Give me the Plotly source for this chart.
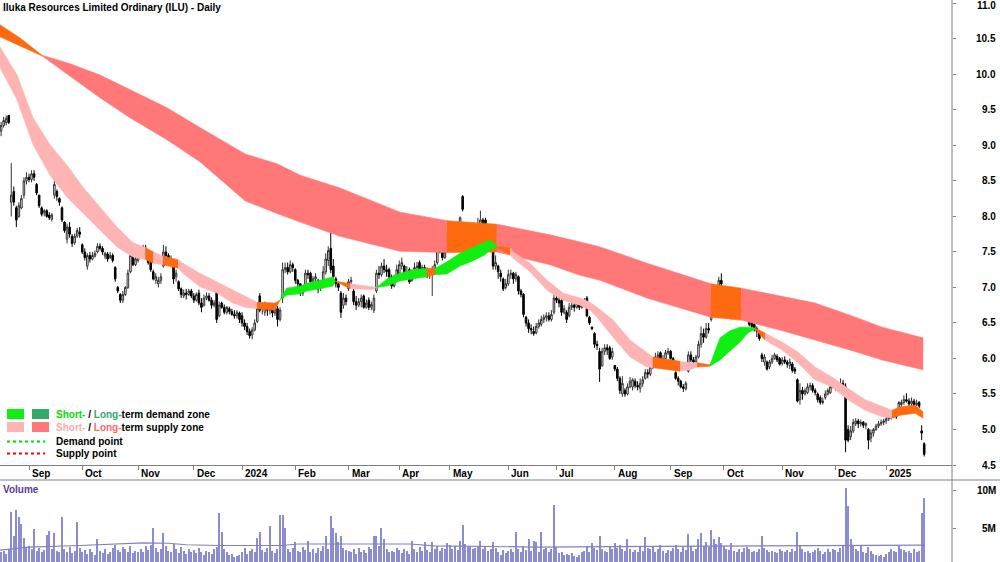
import plotly.graph_objects as go

W, H = 1000, 562


def px(x):
    return x / W


def py(y):
    return 1 - y / H


# ---------------- data ----------------
FIRST_DAY = -11  # trading-day index; 0 = 1 Sep 2023

month_labels = ["", "Sep", "Oct", "Nov", "Dec", "2024", "Feb", "Mar", "Apr", "May", "Jun",
                "Jul", "Aug", "Sep", "Oct", "Nov", "Dec", "2025"]

# daily bars (open, high, low, close), one list per month
m_2023_08 = [(9.20, 9.33, 9.13, 9.28), (9.28, 9.40, 9.25, 9.35), (9.32, 9.42, 9.28, 9.38), (9.42, 9.43, 9.30, 9.32),
             (8.20, 8.75, 8.00, 8.30), (8.35, 8.42, 8.15, 8.20), (8.12, 8.15, 7.85, 7.95), (8.00, 8.20, 7.98, 8.15),
             (8.12, 8.30, 8.10, 8.25), (8.30, 8.55, 8.25, 8.50), (8.50, 8.62, 8.45, 8.55)]
m_2023_09 = [(8.55, 8.60, 8.48, 8.52), (8.52, 8.65, 8.48, 8.60), (8.60, 8.65, 8.50, 8.55), (8.45, 8.47, 8.30, 8.33),
             (8.30, 8.30, 8.12, 8.15), (8.12, 8.14, 8.00, 8.03), (8.05, 8.10, 8.00, 8.08), (8.08, 8.10, 7.98, 8.00),
             (8.02, 8.06, 7.95, 7.98), (7.96, 8.05, 7.93, 8.02), (8.30, 8.50, 8.25, 8.45), (8.35, 8.38, 8.22, 8.28),
             (8.25, 8.27, 8.15, 8.20), (8.12, 8.14, 7.92, 7.95), (7.92, 7.93, 7.77, 7.80), (7.68, 7.90, 7.62, 7.85),
             (7.85, 7.92, 7.70, 7.75), (7.72, 7.75, 7.57, 7.62), (7.63, 7.76, 7.60, 7.72), (7.72, 7.84, 7.70, 7.80),
             (7.78, 7.85, 7.70, 7.75)]
m_2023_10 = [(7.60, 7.62, 7.47, 7.50), (7.50, 7.55, 7.38, 7.42), (7.30, 7.48, 7.25, 7.45), (7.45, 7.50, 7.35, 7.40),
             (7.40, 7.50, 7.38, 7.45), (7.44, 7.52, 7.42, 7.48), (7.50, 7.62, 7.48, 7.58), (7.58, 7.62, 7.52, 7.55),
             (7.55, 7.58, 7.46, 7.50), (7.44, 7.50, 7.40, 7.48), (7.47, 7.50, 7.36, 7.40), (7.42, 7.50, 7.40, 7.45),
             (7.45, 7.48, 7.35, 7.38), (7.28, 7.30, 7.08, 7.12), (7.00, 7.02, 6.92, 6.95), (6.90, 6.92, 6.78, 6.82),
             (6.82, 6.95, 6.78, 6.90), (6.90, 7.02, 6.88, 7.00), (7.00, 7.25, 6.98, 7.20), (7.22, 7.52, 7.20, 7.45),
             (7.45, 7.48, 7.30, 7.32), (7.32, 7.45, 7.30, 7.40)]
m_2023_11 = [(7.38, 7.50, 7.35, 7.45), (7.45, 7.52, 7.42, 7.48), (7.48, 7.60, 7.45, 7.55), (7.55, 7.60, 7.40, 7.42),
             (7.42, 7.47, 7.32, 7.35), (7.35, 7.38, 7.22, 7.25), (7.22, 7.25, 7.10, 7.12), (7.10, 7.20, 7.05, 7.15),
             (7.05, 7.15, 7.00, 7.10), (7.10, 7.20, 7.05, 7.15), (7.30, 7.60, 7.28, 7.50), (7.50, 7.58, 7.42, 7.45),
             (7.45, 7.48, 7.35, 7.38), (7.38, 7.45, 7.35, 7.40), (7.38, 7.40, 7.05, 7.12), (7.15, 7.25, 7.08, 7.20),
             (7.08, 7.10, 6.95, 6.98), (6.98, 7.00, 6.85, 6.90), (6.88, 6.97, 6.85, 6.92), (6.92, 6.98, 6.83, 6.90),
             (6.90, 6.98, 6.88, 6.95), (6.95, 6.98, 6.85, 6.88)]
m_2023_12 = [(6.88, 6.92, 6.78, 6.82), (6.82, 6.93, 6.80, 6.90), (6.92, 6.97, 6.75, 6.78), (6.78, 6.85, 6.65, 6.72),
             (6.75, 6.90, 6.73, 6.85), (6.85, 6.93, 6.82, 6.88), (6.88, 6.92, 6.80, 6.82), (6.82, 6.86, 6.70, 6.75),
             (6.75, 6.82, 6.72, 6.78), (6.95, 7.06, 6.50, 6.55), (6.60, 6.80, 6.58, 6.75), (6.78, 6.80, 6.70, 6.72),
             (6.72, 6.76, 6.62, 6.65), (6.65, 6.74, 6.62, 6.72), (6.70, 6.73, 6.62, 6.66), (6.66, 6.70, 6.60, 6.62),
             (6.62, 6.68, 6.56, 6.60), (6.60, 6.68, 6.56, 6.65), (6.64, 6.66, 6.50, 6.55)]
m_2024_01 = [(6.60, 6.65, 6.45, 6.50), (6.50, 6.55, 6.40, 6.45), (6.45, 6.50, 6.33, 6.38), (6.38, 6.42, 6.28, 6.32),
             (6.33, 6.44, 6.27, 6.40), (6.40, 6.55, 6.38, 6.50), (6.52, 6.75, 6.50, 6.70), (6.88, 6.92, 6.65, 6.68),
             (6.70, 6.78, 6.62, 6.72), (6.65, 6.80, 6.60, 6.75), (6.75, 6.78, 6.60, 6.68), (6.68, 6.75, 6.62, 6.70),
             (6.70, 6.72, 6.58, 6.64), (6.64, 6.75, 6.60, 6.70), (6.70, 6.74, 6.45, 6.55), (6.55, 6.72, 6.52, 6.68),
             (6.85, 7.35, 6.78, 7.25), (7.25, 7.35, 7.20, 7.28), (7.28, 7.35, 7.18, 7.22), (7.22, 7.38, 7.20, 7.32),
             (7.32, 7.35, 7.22, 7.28)]
m_2024_02 = [(7.25, 7.27, 7.05, 7.10), (7.10, 7.12, 6.98, 7.05), (7.05, 7.06, 6.88, 6.92), (6.92, 6.98, 6.88, 6.95),
             (6.98, 7.25, 6.96, 7.20), (7.20, 7.25, 7.12, 7.18), (7.20, 7.22, 7.05, 7.08), (7.08, 7.16, 7.00, 7.12),
             (7.12, 7.20, 7.08, 7.15), (7.10, 7.12, 6.92, 6.98), (7.00, 7.05, 6.95, 7.02), (7.05, 7.30, 7.02, 7.22),
             (7.22, 7.48, 7.18, 7.40), (7.38, 7.58, 7.30, 7.52), (7.55, 7.84, 7.20, 7.25), (7.30, 7.40, 7.10, 7.15),
             (7.12, 7.15, 7.00, 7.05), (7.05, 7.08, 6.95, 7.00), (6.92, 6.95, 6.57, 6.65), (6.75, 6.92, 6.70, 6.85),
             (6.85, 6.90, 6.75, 6.80)]
m_2024_03 = [(6.98, 7.12, 6.95, 7.08), (7.08, 7.15, 7.02, 7.10), (6.95, 6.98, 6.75, 6.80), (6.80, 6.88, 6.68, 6.75),
             (6.75, 6.85, 6.72, 6.80), (6.80, 6.90, 6.72, 6.85), (6.88, 6.90, 6.70, 6.72), (6.72, 6.83, 6.70, 6.78),
             (6.82, 6.86, 6.68, 6.72), (6.72, 6.80, 6.68, 6.76), (6.68, 6.90, 6.64, 6.85), (6.95, 7.25, 6.92, 7.20),
             (7.20, 7.30, 7.12, 7.18), (7.18, 7.35, 7.15, 7.30), (7.30, 7.40, 7.20, 7.25), (7.25, 7.32, 7.15, 7.22),
             (7.25, 7.28, 7.12, 7.15), (7.15, 7.18, 6.98, 7.02), (7.02, 7.18, 7.00, 7.12), (7.12, 7.32, 7.10, 7.25)]
m_2024_04 = [(7.20, 7.38, 7.15, 7.32), (7.30, 7.42, 7.25, 7.35), (7.30, 7.32, 7.12, 7.18), (7.20, 7.30, 7.12, 7.22),
             (7.25, 7.28, 7.05, 7.08), (7.10, 7.25, 7.08, 7.18), (7.18, 7.35, 7.15, 7.28), (7.28, 7.36, 7.22, 7.30),
             (7.35, 7.38, 7.20, 7.25), (7.25, 7.32, 7.20, 7.28), (7.28, 7.32, 7.18, 7.22), (7.22, 7.28, 7.13, 7.18),
             (7.18, 7.25, 7.12, 7.22), (7.20, 7.30, 6.88, 7.25), (7.22, 7.38, 7.18, 7.32), (7.35, 7.65, 7.32, 7.58),
             (7.58, 7.63, 7.48, 7.55), (7.55, 7.58, 7.38, 7.42), (7.42, 7.58, 7.40, 7.50), (7.55, 7.82, 7.52, 7.78)]
m_2024_05 = [(7.70, 7.85, 7.65, 7.78), (7.78, 7.85, 7.65, 7.72), (7.72, 7.88, 7.68, 7.80), (7.80, 7.90, 7.70, 7.75),
             (7.65, 8.00, 7.62, 7.98), (8.28, 8.30, 8.07, 8.10), (7.85, 7.88, 7.58, 7.62), (7.65, 7.80, 7.60, 7.72),
             (7.78, 7.80, 7.60, 7.65), (7.65, 7.75, 7.58, 7.70), (7.70, 7.86, 7.68, 7.82), (7.80, 7.98, 7.78, 7.90),
             (7.90, 8.08, 7.85, 7.95), (7.95, 7.98, 7.80, 7.85), (7.95, 7.98, 7.78, 7.82), (7.72, 7.75, 7.62, 7.70),
             (7.70, 7.75, 7.62, 7.68), (7.52, 7.55, 7.25, 7.30), (7.30, 7.45, 7.25, 7.35), (7.30, 7.32, 7.12, 7.22),
             (7.20, 7.25, 7.08, 7.15), (7.12, 7.14, 6.95, 6.98), (7.00, 7.12, 6.97, 7.05)]
m_2024_06 = [(7.05, 7.25, 7.02, 7.18), (7.18, 7.25, 7.12, 7.20), (7.20, 7.22, 7.05, 7.12), (7.12, 7.22, 7.08, 7.18),
             (7.15, 7.17, 6.90, 6.95), (6.95, 6.98, 6.86, 6.90), (6.90, 6.92, 6.58, 6.62), (6.58, 6.60, 6.45, 6.50),
             (6.50, 6.55, 6.36, 6.42), (6.42, 6.48, 6.34, 6.40), (6.38, 6.45, 6.32, 6.35), (6.36, 6.50, 6.34, 6.45),
             (6.45, 6.55, 6.42, 6.50), (6.48, 6.60, 6.45, 6.55), (6.55, 6.62, 6.50, 6.58), (6.58, 6.65, 6.52, 6.60),
             (6.60, 6.65, 6.52, 6.55), (6.55, 6.68, 6.52, 6.62), (6.65, 6.90, 6.62, 6.85)]
m_2024_07 = [(6.85, 6.90, 6.78, 6.82), (6.82, 6.88, 6.72, 6.78), (6.82, 6.85, 6.60, 6.65), (6.65, 6.75, 6.62, 6.70),
             (6.65, 6.68, 6.50, 6.55), (6.60, 6.78, 6.58, 6.72), (6.72, 6.80, 6.68, 6.75), (6.75, 6.80, 6.66, 6.72),
             (6.72, 6.82, 6.70, 6.78), (6.75, 6.78, 6.68, 6.72), (6.72, 6.80, 6.70, 6.75), (6.75, 6.85, 6.72, 6.80),
             (6.85, 6.88, 6.58, 6.60), (6.58, 6.60, 6.47, 6.50), (6.44, 6.45, 6.40, 6.42), (6.35, 6.37, 6.15, 6.20),
             (6.20, 6.25, 6.12, 6.18), (6.10, 6.15, 5.67, 5.85), (5.90, 6.15, 5.88, 6.10), (6.10, 6.20, 6.05, 6.15),
             (6.15, 6.20, 6.05, 6.12), (6.15, 6.18, 5.98, 6.00), (6.02, 6.15, 5.98, 6.10)]
m_2024_08 = [(5.90, 5.90, 5.82, 5.85), (5.85, 5.88, 5.68, 5.72), (5.72, 5.75, 5.50, 5.55), (5.50, 5.75, 5.46, 5.65),
             (5.55, 5.58, 5.46, 5.50), (5.50, 5.65, 5.48, 5.60), (5.60, 5.74, 5.58, 5.68), (5.60, 5.72, 5.55, 5.70),
             (5.68, 5.72, 5.58, 5.62), (5.62, 5.68, 5.55, 5.60), (5.58, 5.72, 5.52, 5.65), (5.65, 5.75, 5.60, 5.70),
             (5.72, 5.85, 5.70, 5.80), (5.80, 5.85, 5.72, 5.78), (5.78, 5.92, 5.75, 5.88), (5.88, 6.02, 5.85, 5.98),
             (5.98, 6.08, 5.95, 6.02), (6.02, 6.10, 6.00, 6.05), (6.08, 6.10, 5.88, 5.92), (5.95, 6.05, 5.92, 6.00),
             (6.00, 6.12, 5.98, 6.08), (6.08, 6.15, 6.05, 6.10)]
m_2024_09 = [(6.10, 6.12, 5.98, 6.00), (6.00, 6.02, 5.88, 5.92), (5.80, 5.82, 5.70, 5.72), (5.72, 5.75, 5.62, 5.68),
             (5.68, 5.70, 5.58, 5.60), (5.60, 5.64, 5.53, 5.58), (5.57, 5.68, 5.55, 5.65), (5.82, 6.10, 5.80, 6.05),
             (6.05, 6.10, 5.95, 5.98), (5.98, 6.02, 5.92, 5.95), (5.95, 6.05, 5.92, 6.02), (6.02, 6.25, 6.00, 6.20),
             (6.20, 6.45, 6.15, 6.35), (6.35, 6.42, 6.22, 6.30), (6.30, 6.50, 6.28, 6.42), (6.42, 6.50, 6.35, 6.40),
             (6.55, 6.87, 6.52, 6.85), (6.82, 6.96, 6.75, 6.90), (6.90, 7.02, 6.88, 6.98), (6.98, 7.15, 6.95, 7.10),
             (7.10, 7.20, 6.98, 7.05)]
m_2024_10 = [(7.00, 7.02, 6.85, 6.88), (6.92, 6.95, 6.82, 6.85), (6.85, 6.88, 6.78, 6.80), (6.60, 6.68, 6.55, 6.62),
             (6.75, 6.78, 6.68, 6.70), (6.70, 6.77, 6.62, 6.72), (6.70, 6.72, 6.60, 6.62), (6.62, 6.72, 6.58, 6.68),
             (6.68, 6.72, 6.55, 6.60), (6.60, 6.78, 6.55, 6.72), (6.65, 6.66, 6.45, 6.48), (6.50, 6.52, 6.40, 6.45),
             (6.48, 6.50, 6.38, 6.42), (6.42, 6.45, 6.30, 6.38), (6.38, 6.40, 6.25, 6.28), (6.05, 6.08, 5.95, 6.00),
             (5.95, 6.06, 5.90, 6.02), (5.95, 5.97, 5.83, 5.85), (5.88, 5.98, 5.85, 5.95), (5.95, 6.05, 5.92, 6.00),
             (6.00, 6.08, 5.98, 6.05), (6.03, 6.06, 5.95, 5.98), (6.00, 6.02, 5.90, 5.92)]
m_2024_11 = [(5.93, 6.02, 5.90, 5.98), (5.98, 6.03, 5.92, 5.95), (5.95, 5.98, 5.87, 5.92), (5.90, 6.00, 5.85, 5.95),
             (5.92, 5.95, 5.80, 5.83), (5.85, 5.88, 5.78, 5.82), (5.70, 5.72, 5.38, 5.40), (5.42, 5.65, 5.35, 5.55),
             (5.55, 5.60, 5.42, 5.50), (5.50, 5.58, 5.48, 5.55), (5.52, 5.65, 5.50, 5.60), (5.60, 5.66, 5.55, 5.62),
             (5.62, 5.65, 5.52, 5.55), (5.55, 5.58, 5.48, 5.52), (5.50, 5.52, 5.38, 5.42), (5.45, 5.48, 5.35, 5.38),
             (5.38, 5.45, 5.35, 5.40), (5.45, 5.55, 5.42, 5.50), (5.50, 5.58, 5.48, 5.55), (5.52, 5.62, 5.50, 5.60),
             (5.60, 5.70, 5.58, 5.65)]
m_2024_12 = [(5.68, 5.70, 5.55, 5.60), (5.60, 5.68, 5.56, 5.62), (5.62, 5.72, 5.58, 5.65), (5.65, 5.70, 5.55, 5.60),
             (5.60, 5.65, 4.68, 4.85), (5.00, 5.06, 4.82, 4.85), (4.90, 5.05, 4.85, 4.98), (4.98, 5.15, 4.95, 5.10),
             (5.08, 5.16, 5.05, 5.12), (5.12, 5.15, 5.02, 5.08), (5.08, 5.14, 5.04, 5.10), (5.10, 5.12, 5.02, 5.06),
             (5.06, 5.10, 5.00, 5.08), (5.00, 5.02, 4.72, 4.85), (4.88, 5.00, 4.82, 4.95), (4.95, 5.02, 4.90, 5.00),
             (5.00, 5.08, 4.98, 5.05), (5.05, 5.12, 5.02, 5.08), (5.08, 5.14, 5.05, 5.10), (5.10, 5.15, 5.06, 5.12)]
m_2025_01 = [(5.12, 5.18, 5.08, 5.15), (5.15, 5.22, 5.12, 5.18), (5.16, 5.25, 5.14, 5.22), (5.20, 5.26, 5.16, 5.24),
             (5.26, 5.28, 5.15, 5.18), (5.22, 5.40, 5.20, 5.38), (5.35, 5.42, 5.32, 5.38), (5.38, 5.48, 5.35, 5.42),
             (5.42, 5.51, 5.38, 5.40), (5.40, 5.44, 5.32, 5.36), (5.36, 5.45, 5.33, 5.40), (5.40, 5.43, 5.32, 5.35),
             (5.35, 5.42, 5.33, 5.37), (5.38, 5.40, 5.30, 5.33), (4.98, 5.06, 4.85, 4.95), (4.80, 4.82, 4.62, 4.65)]

months = [m_2023_08, m_2023_09, m_2023_10, m_2023_11, m_2023_12, m_2024_01, m_2024_02, m_2024_03,
          m_2024_04, m_2024_05, m_2024_06, m_2024_07, m_2024_08, m_2024_09, m_2024_10, m_2024_11,
          m_2024_12, m_2025_01]

# daily volume in millions, one list per month
v_2023_08 = [1.8, 2.0, 1.6, 2.2, 7.1, 3.9, 7.4, 6.5, 5.5, 3.7, 2.5]
v_2023_09 = [2.6, 2.2, 4.9, 2.0, 2.4, 1.9, 2.1, 4.1, 4.6, 2.3, 4.3, 2.0, 1.8, 6.4, 2.2, 1.9, 2.5, 1.7, 2.0, 5.8, 2.4]
v_2023_10 = [1.8, 2.1, 1.6, 2.3, 1.9, 1.5, 3.6, 2.0, 1.7, 2.2, 1.6, 1.9, 2.4, 2.8, 2.1, 1.8, 2.5, 2.2, 1.9, 2.6, 1.7, 2.0]
v_2023_11 = [1.8, 2.3, 1.9, 2.6, 2.1, 2.8, 5.0, 2.4, 1.9, 2.2, 4.3, 2.6, 2.0, 1.8, 2.9, 2.3, 1.7, 2.5, 2.0, 1.6, 2.2, 1.9]
v_2023_12 = [2.1, 1.7, 2.4, 1.8, 1.5, 2.0, 1.9, 1.6, 2.3, 2.5, 7.0, 4.5, 2.2, 1.8, 1.4, 1.6, 1.2, 1.3, 1.5]
v_2024_01 = [1.8, 2.4, 1.6, 2.0, 2.2, 1.9, 3.7, 4.5, 2.1, 1.8, 2.4, 5.3, 2.0, 1.7, 2.3, 6.7, 6.7, 5.0, 2.2, 1.9, 2.4]
v_2024_02 = [3.2, 2.0, 1.8, 2.5, 2.1, 3.3, 1.9, 2.2, 1.7, 2.4, 2.0, 2.6, 3.9, 2.3, 6.6, 5.0, 4.3, 3.2, 4.0, 2.4, 2.1]
v_2024_03 = [2.0, 1.8, 2.3, 1.6, 2.4, 1.9, 2.1, 1.7, 2.5, 2.2, 4.0, 4.0, 2.6, 5.0, 3.6, 2.2, 1.9, 2.0, 1.8, 2.4]
v_2024_04 = [2.1, 1.7, 2.3, 2.0, 1.6, 3.3, 2.2, 1.9, 2.5, 2.0, 3.2, 2.1, 1.8, 3.2, 2.3, 2.6, 2.0, 2.4, 2.2, 3.0]
v_2024_05 = [2.8, 2.3, 2.6, 2.1, 3.3, 5.4, 2.9, 2.5, 2.7, 2.2, 2.4, 2.6, 3.3, 2.3, 2.5, 2.0, 2.2, 3.2, 2.4, 1.9, 1.5,
             2.1, 1.7]
v_2024_06 = [2.0, 2.3, 1.8, 4.5, 2.2, 1.9, 2.6, 2.1, 3.5, 2.0, 3.3, 3.2, 1.9, 4.5, 2.2, 2.4, 1.8, 2.3, 8.0]
v_2024_07 = [2.5, 1.7, 1.9, 1.5, 1.6, 1.4, 1.7, 1.3, 1.2, 1.5, 1.8, 2.0, 2.6, 1.9, 3.0, 2.4, 2.1, 4.0, 2.3, 2.0, 1.8,
             2.5, 2.2]
v_2024_08 = [3.0, 2.4, 2.8, 2.2, 2.0, 3.5, 2.3, 1.9, 2.1, 1.8, 2.6, 2.0, 3.8, 2.4, 2.2, 2.6, 1.9, 2.3, 2.8, 2.0, 1.7, 2.1]
v_2024_09 = [2.0, 2.4, 2.8, 2.2, 1.9, 2.5, 2.1, 4.2, 2.6, 2.0, 2.3, 3.6, 4.4, 2.7, 3.2, 2.5, 4.8, 3.5, 2.9, 3.8, 3.0]
v_2024_10 = [2.6, 2.3, 2.1, 3.0, 2.0, 1.8, 2.2, 1.9, 2.4, 2.5, 2.2, 1.9, 2.0, 1.8, 2.3, 3.9, 2.4, 2.1, 1.9, 2.0, 1.8,
             1.7, 2.2]
v_2024_11 = [2.0, 1.8, 2.1, 1.9, 2.3, 2.0, 4.5, 2.8, 2.2, 1.9, 2.0, 1.7, 1.8, 2.1, 2.4, 2.0, 1.6, 1.8, 2.2, 1.9, 2.3]
v_2024_12 = [2.1, 1.8, 2.4, 2.6, 10.3, 7.9, 3.5, 2.6, 2.2, 2.0, 2.8, 1.9, 1.7, 2.5, 2.0, 1.6, 1.5, 1.3, 1.4, 1.2]
v_2025_01 = [1.6, 1.8, 2.2, 2.0, 1.9, 2.6, 2.3, 2.1, 1.9, 2.0, 1.7, 2.2, 1.8, 2.0, 7.0, 8.9]

vol_months = [v_2023_08, v_2023_09, v_2023_10, v_2023_11, v_2023_12, v_2024_01, v_2024_02, v_2024_03,
              v_2024_04, v_2024_05, v_2024_06, v_2024_07, v_2024_08, v_2024_09, v_2024_10, v_2024_11,
              v_2024_12, v_2025_01]

# volume average line (millions) at trading-day knots
vma_day = [-11.5, 0, 20, 45, 55, 62, 75, 100, 106, 150, 160, 185, 200, 230, 260, 300, 340, 353]
vma_val = [2.1, 2.5, 2.7, 3.05, 3.0, 2.8, 2.7, 2.7, 2.9, 2.9, 2.65, 2.6, 2.5, 2.55, 2.6, 2.65, 2.7, 2.75]

# long-term zone band (S = supply, N = neutral/orange, D = demand); zone applies to the span after the knot
lt_day = [-11.5, -3.5, 5.1, 16.2, 28.0, 39.8, 54.4, 67.4, 85.2, 97.8, 106.9, 122.6, 146.3, 164.8, 184.5,
          205.4, 217.3, 225.2, 243.7, 268.9, 280.8, 296.1, 309.9, 323.7, 336.4, 352.5]
lt_upper = [10.70, 10.51, 10.27, 10.15, 9.99, 9.78, 9.53, 9.25, 8.88, 8.74, 8.58, 8.40, 8.06, 7.94, 7.89,
            7.74, 7.64, 7.57, 7.34, 7.05, 6.99, 6.88, 6.78, 6.61, 6.44, 6.29]
lt_lower = [10.53, 10.40, 10.26, 9.98, 9.67, 9.39, 9.08, 8.77, 8.22, 8.04, 7.92, 7.72, 7.51, 7.49, 7.50,
            7.32, 7.17, 7.10, 6.85, 6.58, 6.54, 6.40, 6.26, 6.12, 5.98, 5.84]
lt_zone = ["N", "N", "S", "S", "S", "S", "S", "S", "S", "S", "S", "S", "S", "N", "S",
           "S", "S", "S", "S", "N", "S", "S", "S", "S", "S", "S"]

# short-term zone band
st_day = [-11.5, -4.7, 1.6, 8.3, 15.0, 21.3, 28.0, 34.7, 41.0, 46.0, 49.0, 52.8, 58.8, 60.7, 67.4, 74.1,
          80.4, 85.2, 89.9, 97.0, 99.0, 101.5, 106.9, 109.6, 114.7, 119.9, 120.7, 126.6, 135.6, 137.0,
          141.2, 146.3, 151.2, 156.9, 160.1, 164.8, 169.9, 174.8, 179.8, 181.8, 184.5, 189.7, 190.9,
          197.6, 204.3, 210.6, 217.3, 221.2, 224.0, 230.3, 237.0, 243.7, 246.0, 256.7, 260.6, 263.4,
          268.5, 272.5, 276.4, 280.4, 283.5, 286.3, 290.2, 296.9, 303.2, 309.9, 316.6, 322.9, 329.7,
          336.4, 340.3, 343.5, 349.4, 352.5]
st_upper = [10.39, 9.99, 9.39, 9.01, 8.72, 8.41, 8.13, 7.85, 7.63, 7.56, 7.50, 7.44, 7.39, 7.34, 7.20, 7.08,
            6.96, 6.87, 6.79, 6.78, 6.82, 6.99, 7.02, 7.06, 7.10, 7.15, 7.09, 7.05, 7.01, 7.00,
            7.12, 7.20, 7.25, 7.27, 7.27, 7.36, 7.48, 7.56, 7.63, 7.67, 7.58, 7.56, 7.50,
            7.34, 7.10, 6.92, 6.85, 6.79, 6.72, 6.54, 6.26, 6.08, 6.02, 5.96, 5.94, 5.94,
            5.91, 6.29, 6.39, 6.44, 6.44, 6.43, 6.36, 6.23, 6.09, 5.88, 5.74, 5.58, 5.42,
            5.32, 5.27, 5.32, 5.34, 5.25]
st_lower = [10.10, 9.64, 9.01, 8.58, 8.27, 8.05, 7.81, 7.57, 7.43, 7.39, 7.34, 7.32, 7.27, 7.20, 7.01, 6.92,
            6.78, 6.72, 6.70, 6.68, 6.82, 6.89, 6.91, 6.95, 6.98, 7.02, 7.09, 6.98, 6.97, 7.00,
            7.02, 7.09, 7.12, 7.15, 7.18, 7.19, 7.30, 7.37, 7.46, 7.53, 7.56, 7.46, 7.41,
            7.22, 6.96, 6.82, 6.75, 6.68, 6.58, 6.30, 6.02, 5.88, 5.87, 5.82, 5.84, 5.88,
            5.89, 5.98, 6.10, 6.23, 6.36, 6.41, 6.26, 6.12, 5.94, 5.70, 5.60, 5.42, 5.27,
            5.18, 5.16, 5.20, 5.23, 5.16]
st_zone = ["S", "S", "S", "S", "S", "S", "S", "S", "S", "N", "S", "N", "S", "S", "S", "S",
           "S", "S", "N", "N", "D", "D", "D", "D", "D", "D", "N", "S", "S", "D",
           "D", "D", "D", "N", "D", "D", "D", "D", "D", "D", "N", "S", "S",
           "S", "S", "S", "S", "S", "S", "S", "S", "S", "N", "S", "S", "N",
           "D", "D", "D", "D", "D", "N", "S", "S", "S", "S", "S", "S", "S",
           "S", "N", "N", "N", "N"]

price_ticks = [4.5, 5.0, 5.5, 6.0, 6.5, 7.0, 7.5, 8.0, 8.5, 9.0, 9.5, 10.0, 10.5, 11.0]
price_tick_text = ["4.5", "5.0", "5.5", "6.0", "6.5", "7.0", "7.5", "8.0", "8.5", "9.0", "9.5", "10.0",
                   "10.5", "11.0"]
vol_ticks = [5e6, 10e6]
vol_tick_text = ["5M", "10M"]

# ---------------- derived ----------------
opens, highs, lows, closes = [], [], [], []
month_start = []
d = FIRST_DAY
for m in months:
    month_start.append(d)
    for o, h, l, c in m:
        opens.append(o)
        highs.append(h)
        lows.append(l)
        closes.append(c)
    d += len(m)
days = list(range(FIRST_DAY, FIRST_DAY + len(closes)))

volumes = [v * 1e6 for m in vol_months for v in m]
vol_days = list(range(FIRST_DAY, FIRST_DAY + len(volumes)))

LT_COL = {"S": "#FF7777", "N": "#FF6A10", "D": "#33AA66"}
ST_COL = {"S": "#FFB4B4", "N": "#FF6A10", "D": "#11EE11"}

X_RANGE = [-11.435, 363.96]
AX_END = 0.952

fig = go.Figure()


def add_band(day, up, lo, zone, cols):
    n = len(day)
    start = 0
    for k in range(1, n):
        if k == n - 1 or zone[k] != zone[start]:
            seg = list(range(start, k + 1))
            xs = [day[j] for j in seg] + [day[j] for j in reversed(seg)]
            ys = [up[j] for j in seg] + [lo[j] for j in reversed(seg)]
            col = cols[zone[start]]
            fig.add_trace(go.Scatter(x=xs, y=ys, mode="lines", fill="toself", fillcolor=col,
                                     line=dict(width=0.6, color=col), hoverinfo="skip",
                                     showlegend=False, xaxis="x", yaxis="y"))
            start = k


add_band(lt_day, lt_upper, lt_lower, lt_zone, LT_COL)
add_band(st_day, st_upper, st_lower, st_zone, ST_COL)

fig.add_trace(go.Candlestick(
    x=days, open=opens, high=highs, low=lows, close=closes,
    increasing=dict(line=dict(color="#333333", width=1), fillcolor="white"),
    decreasing=dict(line=dict(color="black", width=1), fillcolor="black"),
    whiskerwidth=0, showlegend=False, xaxis="x", yaxis="y"))

fig.add_trace(go.Bar(x=vol_days, y=volumes, width=0.42, marker=dict(color="#8C8CD2", line=dict(width=0)),
                     showlegend=False, xaxis="x2", yaxis="y2"))
fig.add_trace(go.Scatter(x=vma_day, y=[v * 1e6 for v in vma_val], mode="lines",
                         line=dict(color="#8080C8", width=1.2), showlegend=False,
                         xaxis="x2", yaxis="y2"))

price_top = 4.5 + 465 / 71.03
fig.update_layout(
    width=W, height=H, margin=dict(l=0, r=0, t=0, b=0),
    paper_bgcolor="white", plot_bgcolor="white",
    showlegend=False, bargap=0, boxgap=0.12,
    font=dict(family="Liberation Sans, Arial, sans-serif", size=10, color="black"),
    xaxis=dict(domain=[0, AX_END], range=X_RANGE, showgrid=False, zeroline=False,
               rangeslider=dict(visible=False), showline=False,
               tickvals=month_start[1:], ticks="outside", ticklen=4, tickcolor="#808080",
               showticklabels=False, anchor="y"),
    yaxis=dict(domain=[py(465), 1], range=[4.5, price_top], showgrid=False, zeroline=False,
               side="right", anchor="x", tickvals=price_ticks, ticks="outside", ticklen=3,
               tickcolor="#808080", showticklabels=False, showline=False),
    xaxis2=dict(domain=[0, AX_END], range=X_RANGE, matches="x", showgrid=False, zeroline=False,
                showticklabels=False, ticks="", anchor="y2"),
    yaxis2=dict(domain=[0, py(480)], range=[0.53e6, 11.32e6], showgrid=False, zeroline=False,
                side="right", anchor="x2", tickvals=vol_ticks, ticks="outside", ticklen=3,
                tickcolor="#808080", showticklabels=False),
)

shapes = [
    dict(type="line", xref="paper", yref="paper", x0=AX_END, x1=AX_END, y0=0, y1=1,
         line=dict(color="#808080", width=1)),
    dict(type="line", xref="paper", yref="paper", x0=0, x1=AX_END, y0=py(465.5), y1=py(465.5),
         line=dict(color="#808080", width=1)),
    dict(type="line", xref="paper", yref="paper", x0=0, x1=1, y0=py(480), y1=py(480),
         line=dict(color="#808080", width=1)),
    # legend swatches
    dict(type="rect", xref="paper", yref="paper", x0=px(7), x1=px(24), y0=py(419), y1=py(409),
         fillcolor=ST_COL["D"], line=dict(width=0)),
    dict(type="rect", xref="paper", yref="paper", x0=px(32), x1=px(49), y0=py(419), y1=py(409),
         fillcolor=LT_COL["D"], line=dict(width=0)),
    dict(type="rect", xref="paper", yref="paper", x0=px(7), x1=px(24), y0=py(432), y1=py(422),
         fillcolor=ST_COL["S"], line=dict(width=0)),
    dict(type="rect", xref="paper", yref="paper", x0=px(32), x1=px(49), y0=py(432), y1=py(422),
         fillcolor=LT_COL["S"], line=dict(width=0)),
    dict(type="line", xref="paper", yref="paper", x0=px(7), x1=px(45), y0=py(441.5), y1=py(441.5),
         line=dict(color="#00DD00", width=2, dash="dot")),
    dict(type="line", xref="paper", yref="paper", x0=px(7), x1=px(45), y0=py(453.5), y1=py(453.5),
         line=dict(color="#FF0000", width=2, dash="dot")),
]
fig.update_layout(shapes=shapes)

ann = []
ann.append(dict(text="<b>Iluka Resources Limited Ordinary (ILU) - Daily</b>", xref="paper", yref="paper",
                x=px(1), y=py(8), xanchor="left", yanchor="middle", showarrow=False,
                font=dict(size=10, color="black")))
ann.append(dict(text="<b>Volume</b>", xref="paper", yref="paper", x=px(1), y=py(489),
                xanchor="left", yanchor="middle", showarrow=False, font=dict(size=10, color="#5B3A9B")))
legend_rows = [
    ("<b><span style='color:#00DD00'>Short-</span> / <span style='color:#33AA66'>Long-</span>"
     "term demand zone</b>", 414),
    ("<b><span style='color:#FFAAAA'>Short-</span> / <span style='color:#FF6666'>Long-</span>"
     "term supply zone</b>", 427),
    ("<b>Demand point</b>", 441),
    ("<b>Supply point</b>", 453),
]
for t, yy in legend_rows:
    ann.append(dict(text=t, xref="paper", yref="paper", x=px(54), y=py(yy), xanchor="left",
                    yanchor="middle", showarrow=False, font=dict(size=10, color="black")))
for pos, lab in zip(month_start[1:], month_labels[1:]):
    ann.append(dict(text="<b>" + lab + "</b>", xref="x", yref="paper", x=pos, y=py(473),
                    xanchor="left", yanchor="middle", xshift=1, showarrow=False,
                    font=dict(size=10, color="black")))
for v, t in zip(price_ticks, price_tick_text):
    ann.append(dict(text="<b>" + t + "</b>", xref="paper", yref="y", x=px(998), y=v,
                    xanchor="right", yanchor="middle", showarrow=False,
                    yshift=-2 if v == max(price_ticks) else 0,
                    font=dict(size=10, color="black")))
for v, t in zip(vol_ticks, vol_tick_text):
    ann.append(dict(text="<b>" + t + "</b>", xref="paper", yref="y2", x=px(998), y=v,
                    xanchor="right", yanchor="middle", showarrow=False, font=dict(size=10, color="black")))
fig.update_layout(annotations=ann)

fig.write_html("out.html")
